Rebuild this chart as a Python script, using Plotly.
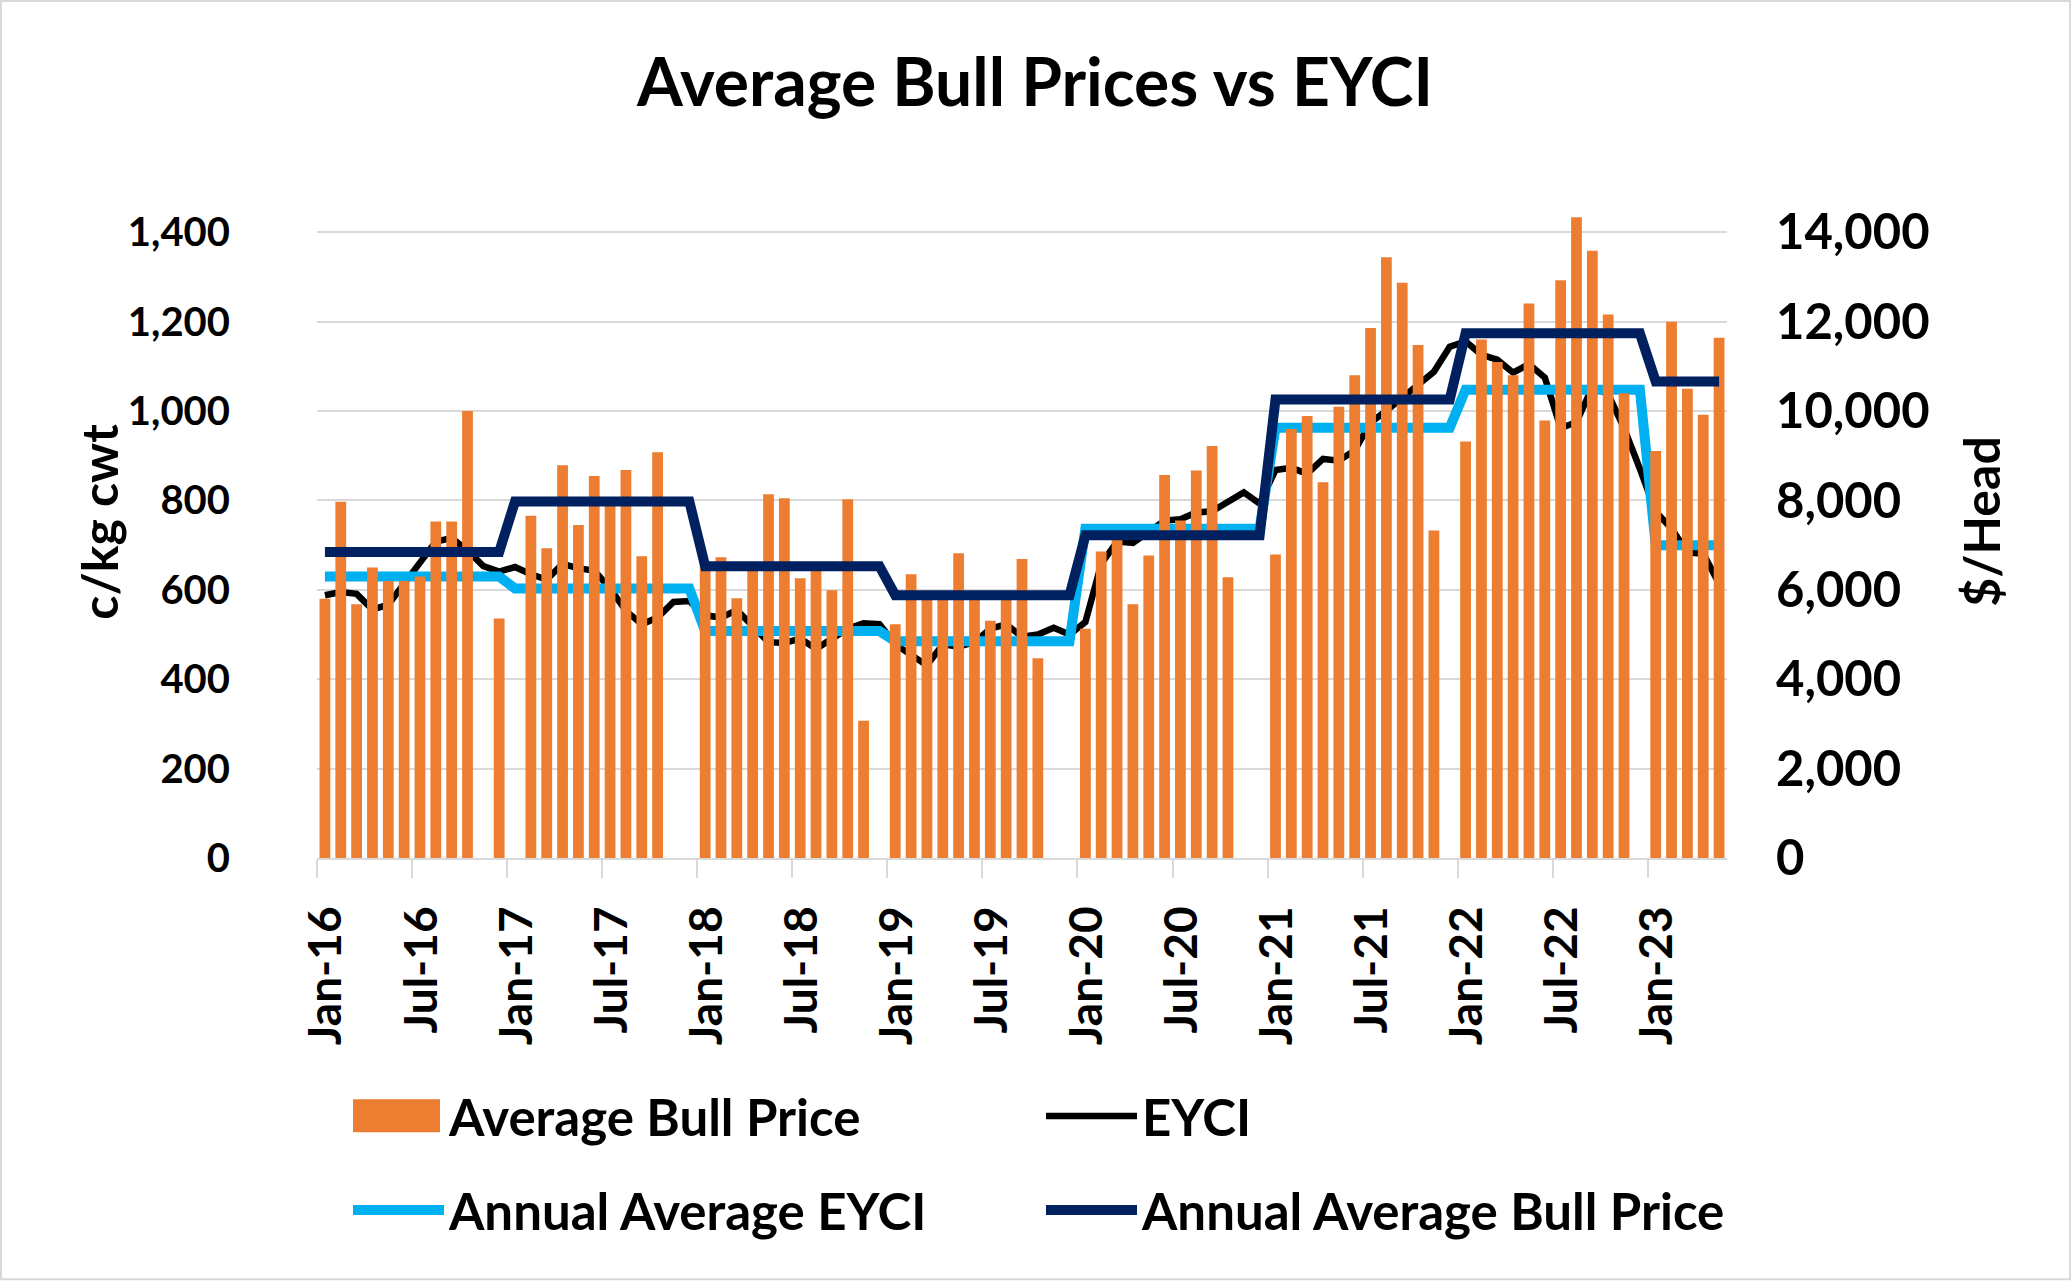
import plotly.graph_objects as go
import pandas as pd

# ---------------- data ----------------
months = [d.strftime('%b-%y') for d in pd.date_range('2016-01-01', '2023-05-01', freq='MS')]

# Average Bull Price ($/Head), monthly (None = no sale)
bull_price = [5800, 7970, 5680, 6500, 6200, 6200, 6300, 7530, 7530, 10000, None, 5360,
              None, 7660, 6930, 8790, 7450, 8550, 7900, 8680, 6750, 9080, None, None,
              6600, 6730, 5810, 6450, 8140, 8050, 6260, 6450, 5990, 8030, 3070, None,
              5230, 6350, 5950, 5950, 6820, 5950, 5310, 5950, 6690, 4470, None, None,
              5130, 6860, 7200, 5680, 6770, 8570, 7550, 8670, 9220, 6280, None, None,
              6790, 9600, 9890, 8410, 10100, 10800, 11860, 13440, 12870, 11480, 7330, None,
              9320, 11600, 11100, 10800, 12410, 9790, 12930, 14340, 13590, 12160, 10400, None,
              9110, 12000, 10500, 9920, 11640]

# EYCI (c/kg cwt), monthly
eyci = [588, 595, 591, 556, 567, 615, 663, 708, 716, 688, 653, 641,
        651, 635, 623, 658, 648, 643, 603, 553, 523, 538, 573, 575,
        543, 538, 555, 520, 483, 481, 491, 468, 491, 513, 525, 523,
        478, 453, 431, 478, 473, 483, 513, 523, 495, 500, 515, 500,
        528, 658, 708, 705, 728, 755, 758, 773, 776, 798, 818, 793,
        868, 873, 860, 893, 889, 912, 974, 1001, 1031, 1060, 1088, 1144,
        1156, 1126, 1115, 1086, 1105, 1075, 962, 975, 1054, 1038, 962, 871,
        775, 737, 684, 681, 614]

years = [2016, 2017, 2018, 2019, 2020, 2021, 2022, 2023]
annual_eyci = [630, 603, 508, 485, 737, 963, 1048, 700]            # c/kg cwt
annual_bull = [6850, 7980, 6530, 5880, 7220, 10260, 11740, 10660]  # $/Head

tick_labels = ['Jan-16', 'Jul-16', 'Jan-17', 'Jul-17', 'Jan-18', 'Jul-18', 'Jan-19',
               'Jul-19', 'Jan-20', 'Jul-20', 'Jan-21', 'Jul-21', 'Jan-22', 'Jul-22', 'Jan-23']
left_ticks = [0, 200, 400, 600, 800, 1000, 1200, 1400]
right_ticks = [0, 2000, 4000, 6000, 8000, 10000, 12000, 14000]

# ---------------- derived ----------------
x = list(range(len(months)))
month_year = [2000 + int(m[-2:]) for m in months]
eyci_annual_m = [annual_eyci[years.index(y)] for y in month_year]
bull_annual_m = [annual_bull[years.index(y)] for y in month_year]
label_pos = [months.index(t) + 0.1 for t in tick_labels]   # labels sit just right of the tick marks

ORANGE = '#ED7D31'
LBLUE = '#00B0F0'
NAVY = '#002060'
GRID = '#D9D9D9'
FONT = 'Lato'

fig = go.Figure()
fig.add_trace(go.Bar(x=x, y=bull_price, name='Average Bull Price', marker=dict(color=ORANGE, line=dict(width=0)),
                     width=0.68, yaxis='y2', showlegend=False, hovertext=months))
fig.add_trace(go.Scatter(x=x, y=eyci, name='EYCI', mode='lines', line=dict(color='black', width=6.5),
                         yaxis='y', legend='legend2', hovertext=months))
fig.add_trace(go.Scatter(x=x, y=eyci_annual_m, name='Annual Average EYCI', mode='lines',
                         line=dict(color=LBLUE, width=10), yaxis='y', legend='legend3', hovertext=months))
fig.add_trace(go.Scatter(x=x, y=bull_annual_m, name='Annual Average Bull Price', mode='lines',
                         line=dict(color=NAVY, width=10), yaxis='y2', legend='legend4', hovertext=months))
# legend entry for the bars (its swatch is drawn as a wide rectangle below)
fig.add_trace(go.Scatter(x=[None], y=[None], name='Average Bull Price', mode='lines',
                         line=dict(color='rgba(237,125,49,0)', width=1), yaxis='y2', legend='legend',
                         hoverinfo='skip'))

W, H = 2071, 1281
Y0_PX, Y1400_PX = 858.5, 232.5          # pixel rows of 0 and 1,400
YMAX = 1450                             # axis top a bit above the last gridline
ppu = (Y0_PX - Y1400_PX) / 1400
top_px = Y0_PX - YMAX * ppu
L, R, T, B = 317, 2071 - 1727, top_px, H - Y0_PX
pw, ph = W - L - R, H - T - B

def px_x(p):
    return (p - L) / pw

def px_y(p):
    return (H - B - p) / ph

lfont = dict(family=FONT, size=51, color='black', weight='bold')

def leg(xp, yp):
    return dict(x=px_x(xp), y=px_y(yp), xanchor='left', yanchor='middle', orientation='h',
                itemwidth=91, font=lfont, bgcolor='rgba(0,0,0,0)', borderwidth=0)

xfont = dict(family=FONT, size=46, color='black', weight='bold')
lyfont = dict(family=FONT, size=40, color='black', weight='bold')
ryfont = dict(family=FONT, size=49, color='black', weight='bold')
afont = dict(family=FONT, size=50, color='black', weight='bold')

fig.update_layout(
    width=W, height=H,
    margin=dict(l=L, r=R, t=T, b=B, pad=0),
    paper_bgcolor='white', plot_bgcolor='white',
    title=dict(text='Average Bull Prices vs EYCI', x=px_x(1035), xref='paper',
               y=1 - 83 / H, yref='container', xanchor='center', yanchor='middle',
               font=dict(family=FONT, size=66, color='black', weight='bold')),
    xaxis=dict(range=[-0.5, len(months) - 0.5], tickvals=label_pos, ticktext=tick_labels,
               tickangle=-90, showgrid=False, showline=True, linecolor=GRID, linewidth=2,
               ticks='outside', ticklen=18, tickwidth=2, tickcolor='rgba(0,0,0,0)', ticklabelstandoff=10,
               minor=dict(tick0=-0.5, dtick=6, ticks='outside', ticklen=18, tickwidth=2, tickcolor=GRID,
                          showgrid=False),
               tickfont=xfont, zeroline=False),
    yaxis=dict(range=[0, YMAX], tickvals=left_ticks, ticktext=[f'{v:,}' for v in left_ticks],
               showgrid=True, gridcolor=GRID, gridwidth=2, zeroline=False, showline=False,
               ticks='', ticklabelstandoff=86, tickfont=lyfont),
    yaxis2=dict(range=[0, YMAX * 10], tickvals=right_ticks, ticktext=[f'{v:,}' for v in right_ticks],
                overlaying='y', side='right', showgrid=False, zeroline=False, showline=False,
                ticks='', ticklabelstandoff=48, tickfont=ryfont),
    legend=leg(348, 1117),
    legend2=leg(1041, 1117),
    legend3=leg(348, 1211),
    legend4=leg(1041, 1211),
    bargap=0.32,
    annotations=[
        dict(text='c/kg cwt', xref='paper', yref='paper', x=px_x(99), y=px_y(522), textangle=-90,
             showarrow=False, xanchor='center', yanchor='middle', font=afont),
        dict(text='$/Head', xref='paper', yref='paper', x=px_x(1981), y=px_y(522), textangle=-90,
             showarrow=False, xanchor='center', yanchor='middle', font=afont),
    ],
    shapes=[
        dict(type='rect', xref='paper', yref='paper',
             x0=px_x(1), x1=px_x(W - 1), y0=px_y(H - 1), y1=px_y(1),
             line=dict(color=GRID, width=2), fillcolor='rgba(0,0,0,0)', layer='below'),
        # wide bar swatch for the "Average Bull Price" legend entry
        dict(type='rect', xref='paper', yref='paper',
             x0=px_x(353), x1=px_x(440), y0=px_y(1133), y1=px_y(1100),
             line=dict(width=0), fillcolor=ORANGE, layer='above'),
    ],
)

fig.write_html('out.html', config={'displayModeBar': False},
               post_script="document.body.style.margin='0';")
